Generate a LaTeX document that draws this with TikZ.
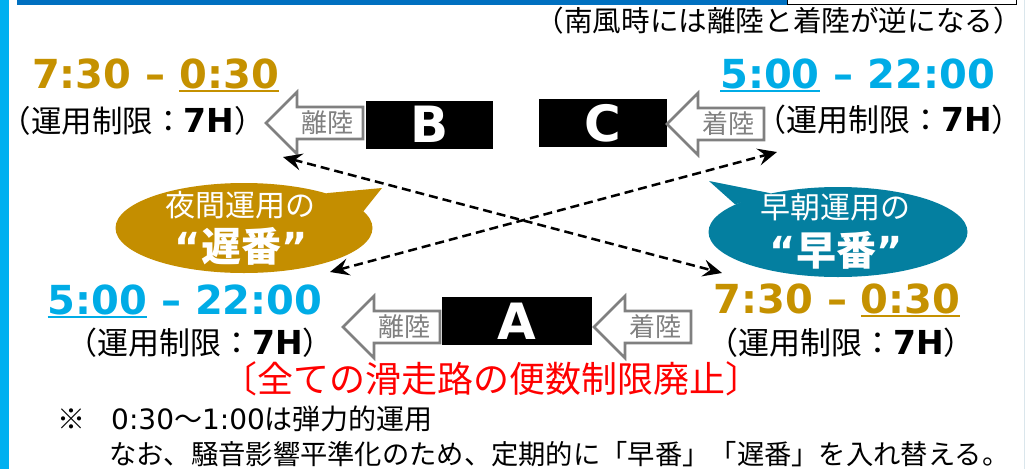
\documentclass[tikz,border=0pt]{standalone}
\usepackage{fontspec}
\setmainfont{Noto Sans CJK JP}
\newfontfamily\latfont{DejaVu Sans}
\usetikzlibrary{arrows.meta,shapes.geometric}
\definecolor{gold}{RGB}{197,145,0}
\definecolor{goldbub}{RGB}{196,142,0}
\definecolor{cyantx}{RGB}{0,172,230}
\definecolor{tealbub}{RGB}{4,127,160}
\definecolor{barblue}{RGB}{0,112,192}
\definecolor{barcyan}{RGB}{0,176,240}
\definecolor{arrgray}{RGB}{128,128,128}
\definecolor{faint}{RGB}{218,230,236}
\newcommand{\myul}[1]{\setbox0\hbox{#1}\rlap{\rule[-4pt]{\wd0}{2pt}}\box0\relax}
\begin{document}
\begin{tikzpicture}[x=1pt,y=-1pt,
  timelbl/.style={inner sep=0, anchor=base, font=\latfont\bfseries\fontsize{40}{44}\selectfont},
  limit/.style={inner sep=0, anchor=base, font=\fontsize{31}{36}\selectfont},
  rwybox/.style={fill=black, text=white, inner sep=0, minimum height=48,
    font=\latfont\bfseries\fontsize{50}{50}\selectfont},
  bubble/.style={ellipse, inner sep=0, minimum width=257, minimum height=90},
  bubtext/.style={text=white, inner sep=0, font=\fontsize{30}{34}\selectfont},
  bubbig/.style={text=white, inner sep=0, font=\bfseries\fontsize{40}{44}\selectfont},
  dashline/.style={line width=2.5pt, dash pattern=on 9pt off 5pt,
    {Stealth[length=19pt,width=17pt,inset=7pt]}-{Stealth[length=19pt,width=17pt,inset=7pt]}},
  arrline/.style={draw=arrgray, line width=2.6pt, line join=miter, fill=white},
  arrtext/.style={text=arrgray, inner sep=0, font=\fontsize{26}{28}\selectfont},
  harrow/.pic={
    \draw[arrline] (0,0) -- (31,-31) -- (31,-16) -- (97,-16) -- (97,16) -- (31,16) -- (31,31) -- cycle;
    \node[arrtext] (lbl) at (61,0) {#1};
  },
  notetext/.style={inner sep=0, font=\fontsize{28}{32}\selectfont}
]
\useasboundingbox (0,0) rectangle (1026,469);

% frame bars
\fill[barcyan] (0,0) rectangle (9,469);
\fill[barblue] (17,0) rectangle (787,5);
\draw[black, line width=1pt] (787,-10) rectangle (1016,4);
\draw[faint, line width=1pt] (1024.5,0) -- (1024.5,469);

% top note
\node[notetext, anchor=base east, font=\fontsize{28.6}{32}\selectfont] (south) at (1022,31) {（南風時には離陸と着陸が逆になる）};

% speech bubbles
\node[bubble, fill=goldbub] (late) at (244,228) {};
\fill[goldbub] (late.23) -- (382,188) -- (late.8) -- cycle;
\node[bubtext] (latet1) at (240,205) {夜間運用の};
\node[bubbig] (latet2) at (241,246) {{\latfont “}遅番{\latfont ”}};

\node[bubble, fill=tealbub, minimum width=259] (early) at (838,232) {};
\fill[tealbub] (early.165) -- (709,181) -- (early.150) -- cycle;
\node[bubtext] (earlyt1) at (835,207) {早朝運用の};
\node[bubbig] (earlyt2) at (836,250) {{\latfont “}早番{\latfont ”}};

% runway boxes
\node[rwybox, minimum width=127] (B) at (429.5,124.5) {B};
\node[rwybox, minimum width=128] (C) at (603,123) {C};
\node[rwybox, minimum width=150] (A) at (517,321) {A};

% hollow arrows
\pic (arB) at (266,123) {harrow=離陸};
\pic (arC) at (667,124) {harrow=着陸};
\pic (arAl) at (343,327) {harrow=離陸};
\pic (arAr) at (594,327) {harrow=着陸};

% dashed connectors
\coordinate (d1a) at (283,157);
\coordinate (d1b) at (722,273);
\coordinate (d2a) at (330,272);
\coordinate (d2b) at (777,152);
\draw[dashline] (d1a) -- (d1b);
\draw[dashline] (d2a) -- (d2b);

% time labels
\node[timelbl, text=gold] (tB) at (155.5,88) {7:30 – \myul{0:30}};
\node[timelbl, text=cyantx] (tC) at (857.5,88) {\myul{5:00} – 22:00};
\node[timelbl, text=cyantx] (tAl) at (185,314) {\myul{5:00} – 22:00};
\node[timelbl, text=gold] (tAr) at (837,313) {7:30 – \myul{0:30}};

% limits
\node[limit, font=\fontsize{30.5}{36}\selectfont] (lB) at (133,132) {（運用制限：{\latfont\bfseries\fontsize{33}{36}\selectfont 7H}）};
\node[limit] (lC) at (889,131) {（運用制限：{\latfont\bfseries\fontsize{33}{36}\selectfont 7H}）};
\node[limit] (lAl) at (200,354) {（運用制限：{\latfont\bfseries\fontsize{33}{36}\selectfont 7H}）};
\node[limit] (lAr) at (841,354) {（運用制限：{\latfont\bfseries\fontsize{33}{36}\selectfont 7H}）};

% red statement
\node[inner sep=0, anchor=base, text=red, font=\fontsize{36}{40}\selectfont] (abol) at (491,392) {〔全ての滑走路の便数制限廃止〕};

% notes
\node[notetext, anchor=base] (mark) at (71,429) {※};
\node[notetext, anchor=base west] (note1) at (111,429) {{\latfont 0:30}～{\latfont 1:00}は弾力的運用};
\node[notetext, anchor=base west, font=\fontsize{27.3}{32}\selectfont] (note2) at (109,464) {なお、騒音影響平準化のため、定期的に「早番」「遅番」を入れ替える。};
\end{tikzpicture}
\end{document}
